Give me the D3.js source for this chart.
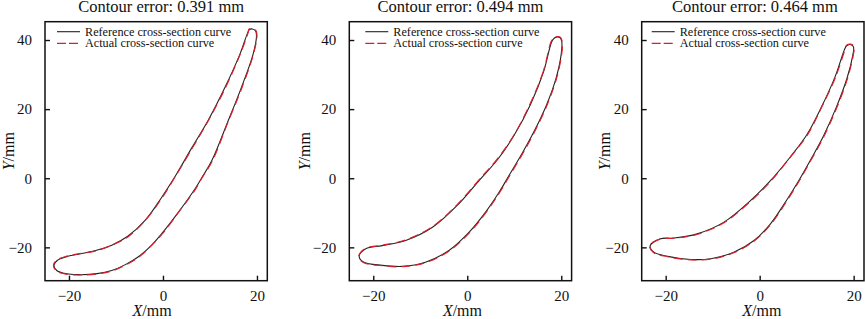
<!DOCTYPE html>
<html>
<head>
<meta charset="utf-8">
<script src="https://cdn.jsdelivr.net/npm/d3@7"></script>
<style>
  body { margin: 0; background: #fff; }
  svg { display: block; font-family: "Liberation Serif", "Times New Roman", serif; }
</style>
</head>
<body>
<svg id="chart" width="865" height="319"></svg>
<script>
// contour errors shown in the titles (mm)
const errors = ['0.391', '0.494', '0.464'];
const xTicks = [-20, 0, 20];
const yTicks = [-20, 0, 20, 40];
const legendLabels = ['Reference cross-section curve', 'Actual cross-section curve'];

// section 1 (closed loop, tip -> suction side -> leading edge -> pressure side)
const ref1 = [[18.0,42.0],[16.4,36.0],[13.2,26.3],[9.6,16.7],[6.0,8.5],[2.8,1.0],[-0.5,-6.0],[-3.8,-12.2],[-7.5,-16.8],[-10.9,-19.4],[-14.5,-21.0],[-18.0,-22.0],[-20.5,-22.7],[-22.5,-23.8],[-23.2,-25.2],[-22.6,-26.7],[-21.0,-27.5],[-18.0,-27.9],[-14.0,-27.6],[-10.9,-26.7],[-8.0,-25.0],[-5.3,-22.8],[-2.5,-19.5],[-0.3,-16.1],[3.3,-9.8],[6.8,-3.1],[8.2,0.0],[10.4,5.1],[13.9,16.7],[16.7,26.3],[19.2,36.0],[19.9,41.2],[19.7,42.6],[19.0,43.2],[18.4,43.0]];
const act1 = [[18.1,42.1],[16.5,36.1],[13.3,26.2],[9.7,16.8],[6.1,8.4],[2.9,1.1],[-0.4,-6.1],[-3.7,-12.1],[-7.4,-16.9],[-10.8,-19.3],[-14.4,-21.1],[-18.1,-21.9],[-20.6,-22.6],[-22.6,-23.7],[-23.3,-25.2],[-22.7,-26.8],[-21.1,-27.6],[-18.0,-28.0],[-14.1,-27.7],[-10.8,-26.8],[-7.9,-25.1],[-5.2,-22.9],[-2.4,-19.4],[-0.2,-16.2],[3.4,-9.7],[6.9,-3.2],[8.3,0.1],[10.5,5.0],[14.0,16.8],[16.8,26.2],[19.3,36.1],[20.0,41.3],[19.8,42.7],[19.0,43.3],[18.3,43.1]];

// section 2
const ref2 = [[17.9,39.3],[16.3,31.1],[13.5,21.5],[10.0,12.5],[6.5,5.5],[2.5,-0.7],[-1.8,-7.4],[-7.4,-14.2],[-13.1,-18.0],[-18.1,-19.5],[-21.6,-20.4],[-23.0,-22.6],[-22.0,-24.3],[-18.1,-25.2],[-13.8,-25.5],[-8.9,-24.3],[-3.9,-20.9],[0.4,-15.6],[3.9,-9.8],[6.8,-4.0],[9.2,1.5],[11.6,7.0],[14.2,13.5],[16.8,21.0],[18.9,29.0],[20.0,36.0],[20.1,39.6],[19.7,40.7],[19.1,40.9],[18.4,40.4]];
const act2 = [[17.8,39.4],[16.2,31.0],[13.4,21.6],[9.9,12.4],[6.4,5.6],[2.4,-0.6],[-1.9,-7.3],[-7.5,-14.1],[-13.2,-17.9],[-18.2,-19.4],[-21.7,-20.3],[-23.1,-22.6],[-22.1,-24.4],[-18.2,-25.3],[-13.8,-25.6],[-8.8,-24.4],[-3.8,-21.0],[0.5,-15.7],[4.0,-9.9],[6.9,-4.1],[9.3,1.4],[11.7,6.9],[14.3,13.4],[16.9,20.9],[19.0,28.9],[20.1,36.0],[20.2,39.6],[19.8,40.8],[19.1,41.0],[18.3,40.5]];

// section 3
const ref3 = [[18.1,37.4],[16.0,29.2],[13.1,20.5],[10.0,12.5],[6.6,6.3],[2.3,-0.7],[-1.9,-6.4],[-7.6,-12.7],[-13.3,-16.1],[-18.2,-17.3],[-21.1,-17.5],[-23.3,-19.5],[-22.5,-21.4],[-19.6,-22.6],[-14.7,-23.5],[-10.4,-23.3],[-5.5,-21.4],[-1.2,-18.0],[2.3,-13.2],[5.9,-6.0],[8.4,-0.5],[10.9,5.5],[13.5,12.0],[16.3,20.5],[18.6,29.0],[19.8,35.5],[20.0,37.8],[19.7,38.5],[19.1,38.7],[18.5,38.3]];
const act3 = [[18.2,37.5],[16.1,29.1],[13.2,20.6],[10.1,12.4],[6.7,6.4],[2.4,-0.8],[-1.8,-6.5],[-7.5,-12.8],[-13.2,-16.2],[-18.3,-17.4],[-21.2,-17.6],[-23.4,-19.5],[-22.6,-21.5],[-19.6,-22.7],[-14.6,-23.6],[-10.3,-23.4],[-5.4,-21.5],[-1.1,-18.1],[2.4,-13.3],[6.0,-6.1],[8.5,-0.6],[11.0,5.4],[13.6,11.9],[16.4,20.4],[18.7,28.9],[19.9,35.5],[20.1,37.8],[19.8,38.6],[19.1,38.8],[18.4,38.4]];

const refs = [ref1, ref2, ref3];
const acts = [act1, act2, act3];

// panel placement
const panels = [
  { left: 45, titleDx: 5, xlabDx: -4, ylabX: 14, legDx: 12 },
  { left: 349.3, titleDx: 0, xlabDx: 2, ylabX: 310, legDx: 16 },
  { left: 641.7, titleDx: 2, xlabDx: 9, ylabX: 610, legDx: 10 }
];
const plotW = 222.3, plotTop = 21.7, plotBottom = 280.7;

const svg = d3.select('#chart');

const y = d3.scaleLinear().domain([-29.65, 45.3]).range([plotBottom, plotTop]);

panels.forEach((p, i) => {
  const x = d3.scaleLinear().domain([-25.1, 22.2]).range([p.left, p.left + plotW]);
  const g = svg.append('g');

  const line = d3.line()
    .x(d => x(d[0]))
    .y(d => y(d[1]))
    .curve(d3.curveCatmullRomClosed.alpha(0.5));

  // frame
  g.append('rect')
    .attr('x', p.left).attr('y', plotTop)
    .attr('width', plotW).attr('height', plotBottom - plotTop)
    .attr('fill', 'none').attr('stroke', '#111').attr('stroke-width', 1.5);

  // axes, ticks pointing inward
  const xAxis = d3.axisBottom(x).tickValues(xTicks).tickSizeInner(-5).tickSizeOuter(0)
    .tickPadding(10).tickFormat(d => d < 0 ? '\u2212' + Math.abs(d) : d);
  const gx = g.append('g').attr('transform', `translate(0,${plotBottom})`).call(xAxis);
  gx.select('.domain').remove();

  const yAxis = d3.axisLeft(y).tickValues(yTicks).tickSizeInner(-5).tickSizeOuter(0)
    .tickPadding(13).tickFormat(d => d < 0 ? '\u2212' + Math.abs(d) : d);
  const gy = g.append('g').attr('transform', `translate(${p.left},0)`).call(yAxis);
  gy.select('.domain').remove();

  g.selectAll('.tick line').attr('stroke', '#111').attr('stroke-width', 1.4);
  g.selectAll('.tick text')
    .attr('fill', '#111')
    .style('font-family', '"Liberation Serif", "Times New Roman", serif')
    .style('font-size', '15px');

  // curves: black reference under red dashed actual
  g.append('path')
    .attr('d', line(refs[i]))
    .attr('fill', 'none').attr('stroke', '#222').attr('stroke-width', 1.1);
  g.append('path')
    .attr('d', line(acts[i]))
    .attr('fill', 'none').attr('stroke', '#d8202c').attr('stroke-width', 1.2)
    .attr('stroke-dasharray', '9,5');

  // title
  g.append('text')
    .attr('x', p.left + plotW / 2 + p.titleDx).attr('y', 12)
    .attr('text-anchor', 'middle').attr('font-size', 16.5).attr('fill', '#111')
    .text(`Contour error: ${errors[i]} mm`);

  // axis labels
  const xl = g.append('text')
    .attr('x', p.left + plotW / 2 + p.xlabDx).attr('y', 316)
    .attr('text-anchor', 'middle').attr('font-size', 16).attr('fill', '#111');
  xl.append('tspan').attr('font-style', 'italic').text('X');
  xl.append('tspan').text('/mm');

  const yl = g.append('text')
    .attr('transform', `translate(${p.ylabX},${(plotTop + plotBottom) / 2}) rotate(-90)`)
    .attr('text-anchor', 'middle').attr('font-size', 16).attr('fill', '#111');
  yl.append('tspan').attr('font-style', 'italic').text('Y');
  yl.append('tspan').text('/mm');

  // legend
  const lx = p.left + p.legDx;
  const leg = g.append('g');
  leg.append('line')
    .attr('x1', lx).attr('x2', lx + 23).attr('y1', 31.7).attr('y2', 31.7)
    .attr('stroke', '#222').attr('stroke-width', 1.1);
  leg.append('line')
    .attr('x1', lx).attr('x2', lx + 23).attr('y1', 43.3).attr('y2', 43.3)
    .attr('stroke', '#d8202c').attr('stroke-width', 1.2).attr('stroke-dasharray', '9,3');
  leg.selectAll('text').data(legendLabels).enter().append('text')
    .attr('x', lx + 28).attr('y', (d, j) => 35.7 + j * 11.6)
    .attr('font-size', 12.2).attr('fill', '#111')
    .text(d => d);
});
</script>
</body>
</html>
